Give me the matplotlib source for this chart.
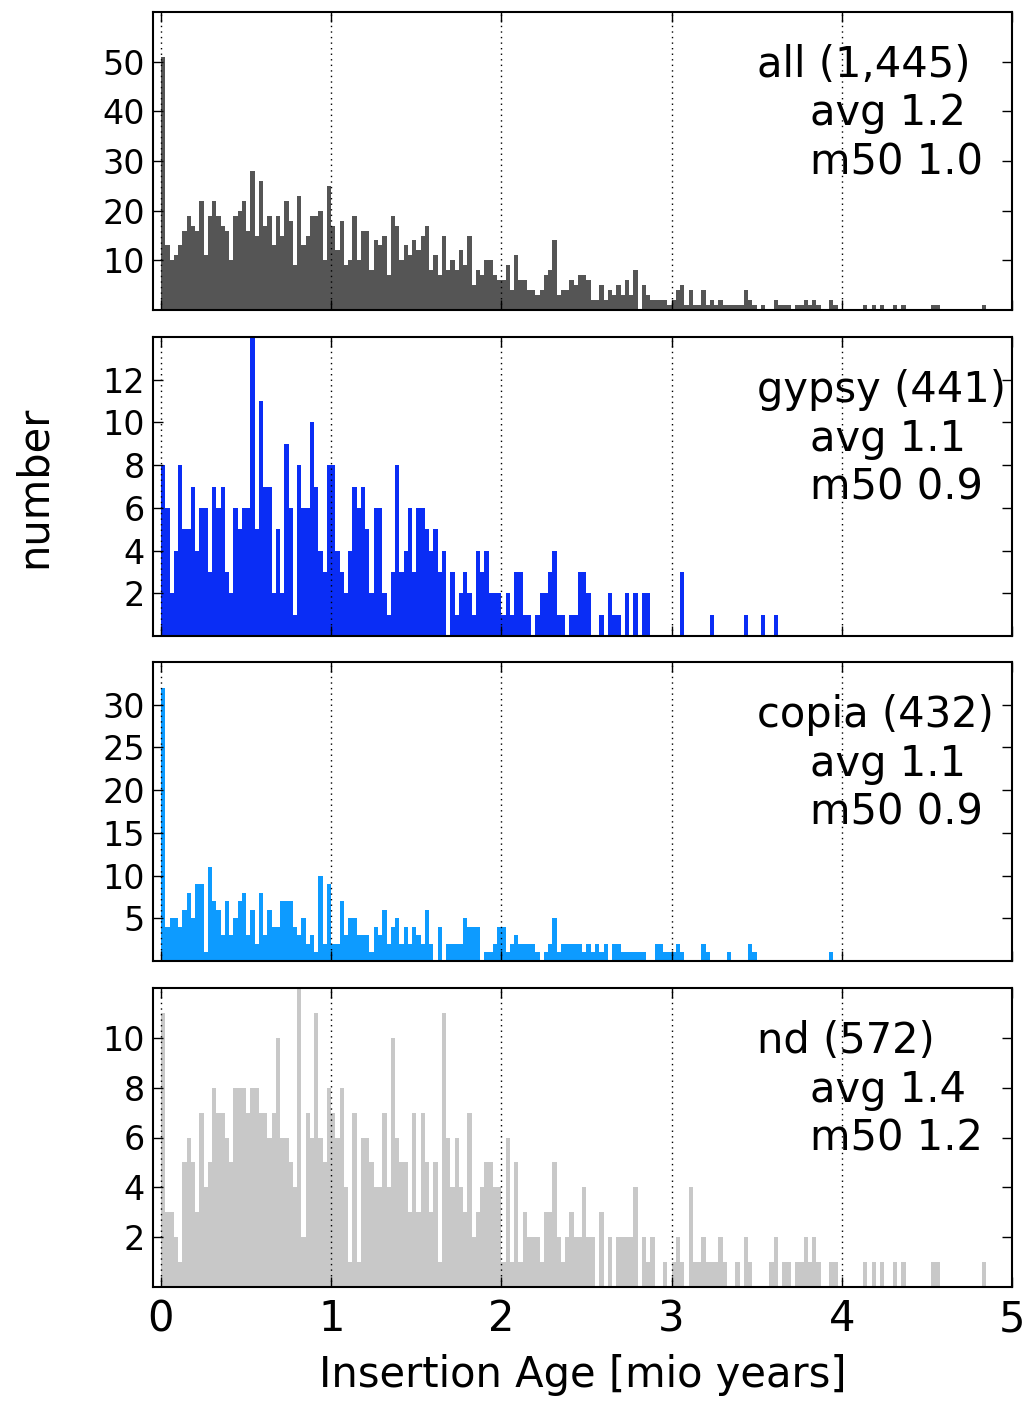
import numpy as np
import matplotlib
matplotlib.use("Agg")
import matplotlib.pyplot as plt

BIN_WIDTH = 0.025
N_BINS = 200

def pad(vals, extra=None):
    out = list(vals) + [0] * (N_BINS - len(vals))
    if extra:
        for k, v in extra.items():
            out[k] = v
    return out

# ---- counts per 0.025 bin, starting at 0 ----
all_counts = pad(
    [51, 13, 10, 11, 13, 16, 19, 17, 16, 22, 11, 19, 22, 19, 17, 16, 10, 19, 20, 22,
     16, 28, 15, 26, 17, 19, 13, 19, 15, 22, 18, 9, 23, 13, 15, 19, 19, 20, 10, 25,
     17, 12, 18, 9, 10, 19, 10, 16, 16, 8, 14, 13, 15, 7, 19, 17, 10, 13, 11, 14,
     12, 15, 17, 8, 11, 7, 15, 8,
     10, 8, 12, 9, 15, 5, 8, 7, 10, 10, 7, 6, 6, 9, 4, 11, 6, 6, 4, 4,
     3, 4, 7, 8, 14, 3, 4, 4, 6, 5, 7, 7, 6, 2, 2, 5, 2, 4, 3, 5,
     3, 6, 3, 8, 0, 5, 3, 2, 2, 2, 2, 1, 2, 4, 5, 1, 4, 1, 1, 4,
     1, 2, 1, 2, 1, 1, 1, 1],
    {136: 1, 137: 4, 138: 2, 139: 1, 141: 1, 144: 2, 145: 1, 146: 1, 147: 1,
     149: 1, 150: 1, 151: 2, 152: 1, 153: 2, 154: 1, 157: 2, 158: 1, 165: 1,
     167: 1, 169: 1, 172: 1, 174: 1, 181: 1, 182: 1, 193: 1})

gypsy_counts = pad(
    [8, 6, 2, 4, 8, 5, 5, 7, 4, 6, 6, 3, 7, 6, 7, 3, 2, 6, 5, 6,
     6, 14, 5, 11, 7, 7, 2, 5, 2, 9, 6, 1, 8, 6, 6, 10, 7, 4, 3, 8,
     8, 4, 3, 2, 4, 7, 6, 7, 5, 2, 6, 6, 2, 1, 3, 8, 3, 4, 6, 3,
     6, 6, 5, 4, 5, 3, 4,
     0, 3, 1, 2, 3, 2, 1, 4, 3, 4, 2, 2, 2, 1, 2, 1, 3, 3, 1, 1,
     0, 1, 2, 2, 3, 4, 1, 1, 0, 1, 1, 3, 3, 2, 0, 0, 1, 0, 2, 1,
     1, 0, 2, 0, 2, 0, 2, 2],
    {122: 3, 129: 1, 137: 1, 141: 1, 144: 1})

copia_counts = pad(
    [32, 4, 5, 5, 4, 6, 8, 5, 9, 9, 1, 11, 7, 6, 3, 7, 3, 5, 7, 8,
     3, 6, 2, 8, 3, 6, 4, 4, 7, 7, 7, 4, 3, 5, 2, 3, 1, 10, 2, 9,
     2, 2, 7, 3, 5, 5, 3, 3, 3, 1, 4, 3, 6, 2, 4, 5, 2, 4, 2, 4,
     3, 2, 6, 2, 0, 4, 0, 2,
     2, 2, 2, 5, 4, 4, 4, 0, 1, 1, 2, 4, 4, 1, 2, 3, 2, 2, 2, 2,
     1, 0, 1, 2, 5, 1, 2, 2, 2, 2, 2, 1, 2, 1, 2, 1, 2, 0, 2, 2,
     1, 1, 1, 1, 1, 1, 0, 0, 2, 2, 1, 1, 1, 2, 1],
    {127: 2, 128: 1, 133: 1, 138: 2, 139: 1, 157: 1})

nd_counts = pad(
    [11, 3, 3, 2, 1, 5, 6, 5, 3, 7, 4, 5, 8, 7, 7, 6, 5, 8, 8, 8,
     7, 8, 8, 7, 7, 6, 7, 10, 6, 6, 5, 4, 12, 2, 7, 6, 11, 6, 5, 8,
     7, 6, 8, 4, 1, 7, 1, 6, 6, 5, 4, 4, 7, 4, 10, 6, 5, 5, 3, 7,
     3, 7, 5, 3, 5, 1, 11, 6,
     4, 6, 4, 3, 7, 2, 3, 4, 5, 5, 4, 4, 1, 6, 1, 5, 1, 3, 2, 2,
     2, 1, 3, 3, 5, 2, 1, 2, 3, 2, 2, 4, 2, 2, 0, 3, 0, 2, 0, 2,
     2, 2, 2, 4, 0, 2, 1, 2, 0, 0, 1, 0, 1, 2, 1, 0, 4, 1, 1, 2,
     1, 1, 1, 2, 1, 0, 0, 1],
    {137: 2, 138: 1, 143: 1, 144: 2, 146: 1, 147: 1, 149: 1, 150: 1, 151: 2,
     152: 1, 153: 2, 154: 1, 157: 1, 158: 1, 165: 1, 167: 1, 169: 1, 172: 1,
     174: 1, 181: 1, 182: 1, 193: 1})

panel_labels = ["all (1,445)\n    avg 1.2\n    m50 1.0",
                "gypsy (441)\n    avg 1.1\n    m50 0.9",
                "copia (432)\n    avg 1.1\n    m50 0.9",
                "nd (572)\n    avg 1.4\n    m50 1.2"]
panel_colors = ["#555555", "#0a2df5", "#0d9bff", "#c8c8c8"]
panel_ylims = [60, 14, 35, 12]
panel_yticks = [[10, 20, 30, 40, 50], [2, 4, 6, 8, 10, 12],
                [5, 10, 15, 20, 25, 30], [2, 4, 6, 8, 10]]
x_ticks = [0, 1, 2, 3, 4, 5]
x_label = "Insertion Age [mio years]"
y_label = "number"

series = [all_counts, gypsy_counts, copia_counts, nd_counts]
edges = np.arange(N_BINS) * BIN_WIDTH

W, H = 1029, 1401
fig = plt.figure(figsize=(W / 100, H / 100), dpi=100)

panel_px = [(12, 310), (337, 636), (662, 961), (988, 1287)]
left_px, right_px = 153, 1012

axes = []
for i, (top, bot) in enumerate(panel_px):
    ax = fig.add_axes([left_px / W, 1 - bot / H, (right_px - left_px) / W, (bot - top) / H])
    ax.bar(edges, series[i], width=BIN_WIDTH, align="edge",
           color=panel_colors[i], linewidth=0, zorder=2)
    ax.set_xlim(-0.047, 5.0)
    ax.set_ylim(0, panel_ylims[i])
    ax.set_yticks(panel_yticks[i])
    ax.set_xticks(x_ticks)
    ax.xaxis.grid(True, linestyle=(0, (1, 3)), color="black", linewidth=1.0, zorder=3)
    ax.set_axisbelow(False)
    ax.tick_params(axis="both", which="major", direction="in", length=7, width=1,
                   top=True, right=True, labelsize=24, pad=6)
    ax.tick_params(axis="x", labelsize=30, pad=8)
    if i < 3:
        ax.tick_params(axis="x", labelbottom=False)
    for s in ax.spines.values():
        s.set_linewidth(1.5)
    ax.text(0.703, 0.893, panel_labels[i], transform=ax.transAxes,
            ha="left", va="top", fontsize=30, linespacing=1.2, zorder=5)
    axes.append(ax)

axes[1].set_ylabel(y_label, fontsize=30, labelpad=34)
axes[3].set_xlabel(x_label, fontsize=30, labelpad=10)

fig.savefig("out.png", dpi=100)
